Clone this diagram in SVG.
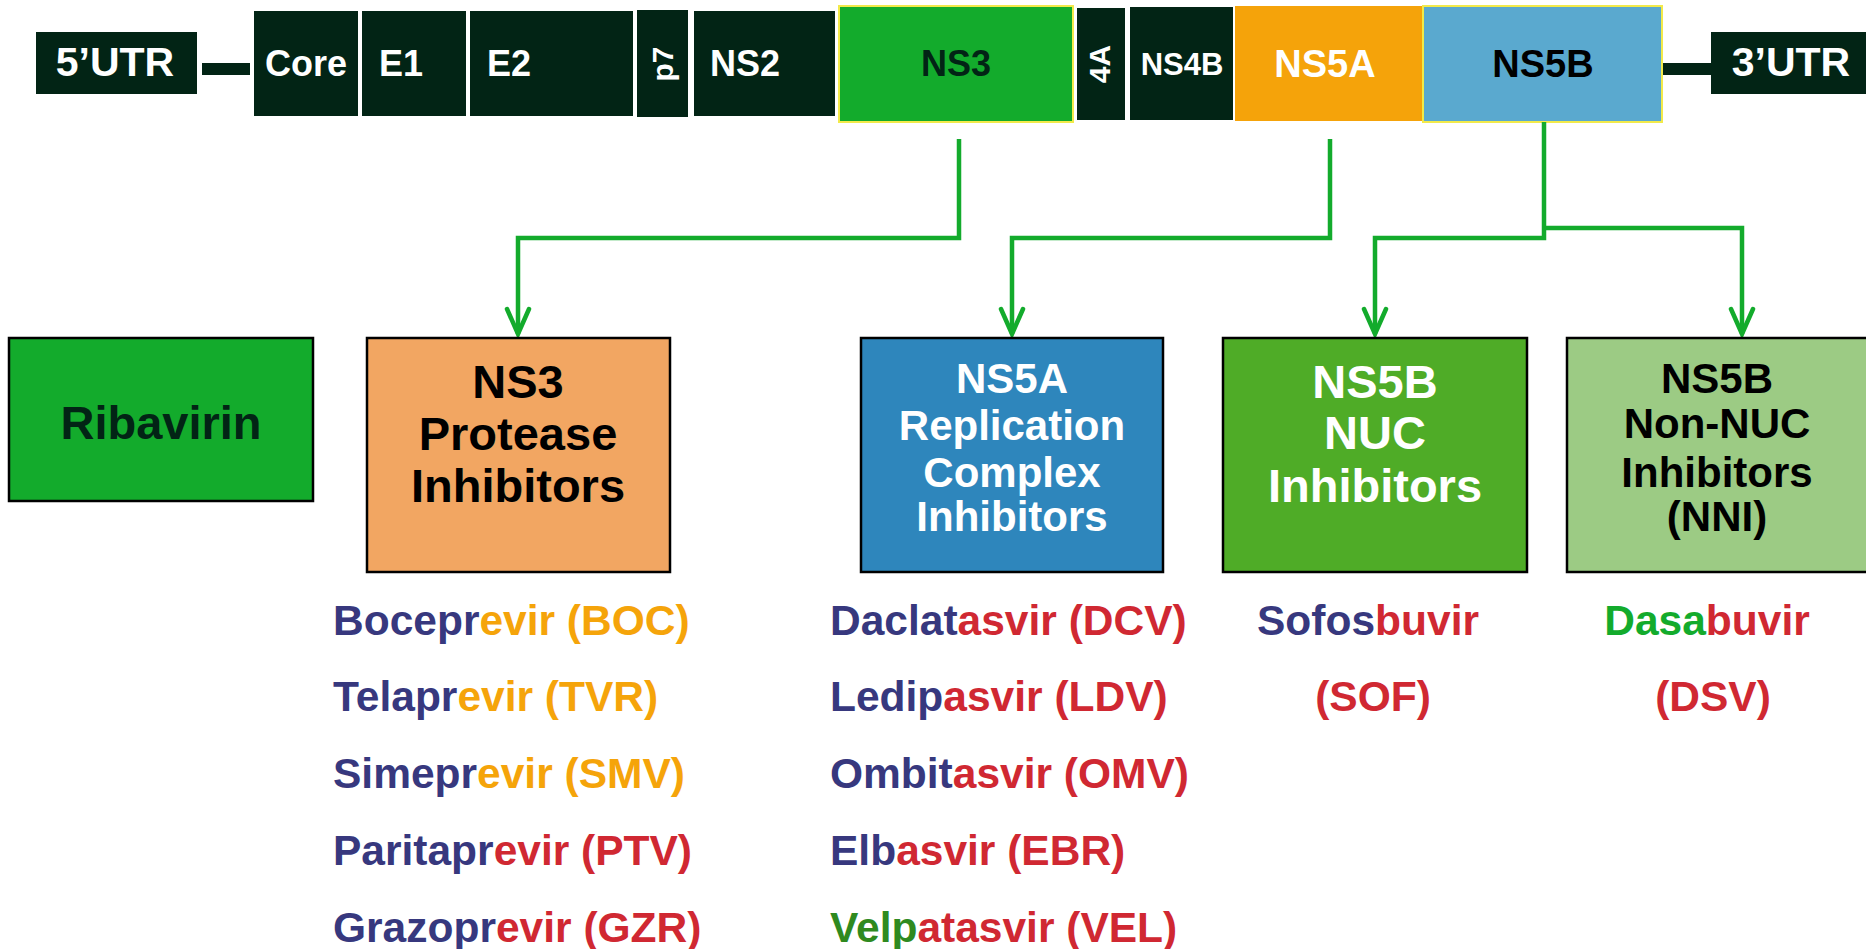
<svg xmlns="http://www.w3.org/2000/svg" width="1866" height="949" viewBox="0 0 1866 949">
<defs>
<style>
text{font-family:"Liberation Sans",Arial,sans-serif;font-weight:bold}
.dk{fill:#022415}
.gl{fill:#fff;font-size:36px}
.bx{stroke:#000;stroke-width:2.5}
.con{fill:none;stroke:#13ab2c;stroke-width:4.5;stroke-linejoin:miter}
.dr{font-size:42.5px}
.n{fill:#37387e}
.o{fill:#f5a40a}
.r{fill:#d02832}
.g{fill:#2f8a1f}
.g2{fill:#13ab2c}
</style>
<marker id="ah" viewBox="-30 -16 34 32" markerWidth="34" markerHeight="32" refX="0" refY="0" markerUnits="userSpaceOnUse" orient="auto">
<path d="M-25,-11 L0,0 L-25,11" fill="none" stroke="#13ab2c" stroke-width="4.5" stroke-linecap="round"/>
</marker>
</defs>
<rect width="1866" height="949" fill="#fff"/>

<g id="genome-lines">
<rect class="dk" x="202" y="63" width="48" height="12"/>
<rect class="dk" x="1663" y="63" width="48" height="12"/>
</g>
<g id="utr5"><rect class="dk" x="36" y="32" width="161" height="62"/><text x="115" y="76" text-anchor="middle" fill="#fff" font-size="41">5’UTR</text></g>
<g id="core"><rect class="dk" x="254" y="11" width="104" height="105"/><text class="gl" x="306" y="76" text-anchor="middle">Core</text></g>
<g id="e1"><rect class="dk" x="362" y="11" width="104" height="105"/><text class="gl" x="379" y="76">E1</text></g>
<g id="e2"><rect class="dk" x="470" y="11" width="163" height="105"/><text class="gl" x="487" y="76">E2</text></g>
<g id="p7"><rect class="dk" x="637" y="10" width="51" height="107"/><text x="0" y="0" fill="#fff" font-size="30" text-anchor="middle" transform="translate(673,64) rotate(-90)">p7</text></g>
<g id="ns2"><rect class="dk" x="694" y="11" width="141" height="105"/><text class="gl" x="710" y="76">NS2</text></g>
<g id="ns3"><rect x="839" y="6" width="234" height="116" fill="#13ab2c" stroke="#f2ea4a" stroke-width="2"/><text x="956" y="76" text-anchor="middle" fill="#022415" font-size="36">NS3</text></g>
<g id="ns4a"><rect class="dk" x="1077" y="8" width="48" height="112"/><text x="0" y="0" fill="#fff" font-size="30" text-anchor="middle" transform="translate(1110,64) rotate(-90)">4A</text></g>
<g id="ns4b"><rect class="dk" x="1130" y="7" width="103" height="113"/><text x="1182" y="75" text-anchor="middle" fill="#fff" font-size="31">NS4B</text></g>
<g id="ns5a"><rect x="1235" y="6" width="187" height="115" fill="#f5a30a"/><text x="1325" y="77" text-anchor="middle" fill="#fff" font-size="38">NS5A</text></g>
<g id="ns5b"><rect x="1423" y="6" width="239" height="116" fill="#5aa9cf" stroke="#f2ea4a" stroke-width="2"/><text x="1543" y="77" text-anchor="middle" fill="#000" font-size="38">NS5B</text></g>
<g id="utr3"><rect class="dk" x="1711" y="32" width="160" height="62"/><text x="1791" y="76" text-anchor="middle" fill="#fff" font-size="41">3’UTR</text></g>

<g id="connectors">
<polyline class="con" points="959,139 959,238 518,238 518,334" marker-end="url(#ah)"/>
<polyline class="con" points="1330,139 1330,238 1012,238 1012,334" marker-end="url(#ah)"/>
<polyline class="con" points="1544,122 1544,238 1375,238 1375,334" marker-end="url(#ah)"/>
<polyline class="con" points="1544,228 1742,228 1742,334" marker-end="url(#ah)"/>
</g>

<g id="ribavirin"><rect class="bx" x="9" y="338" width="304" height="163" fill="#13ab2c"/><text x="161" y="439" text-anchor="middle" fill="#022415" font-size="47">Ribavirin</text></g>
<g id="ns3-pi"><rect class="bx" x="367" y="338" width="303" height="234" fill="#f2a662"/>
<text x="518" y="398" text-anchor="middle" fill="#000" font-size="47">NS3</text>
<text x="518" y="450" text-anchor="middle" fill="#000" font-size="47">Protease</text>
<text x="518" y="502" text-anchor="middle" fill="#000" font-size="47">Inhibitors</text></g>
<g id="ns5a-rci"><rect class="bx" x="861" y="338" width="302" height="234" fill="#2e86bc"/>
<text x="1012" y="393" text-anchor="middle" fill="#fff" font-size="42">NS5A</text>
<text x="1012" y="440" text-anchor="middle" fill="#fff" font-size="42">Replication</text>
<text x="1012" y="487" text-anchor="middle" fill="#fff" font-size="42">Complex</text>
<text x="1012" y="531" text-anchor="middle" fill="#fff" font-size="42">Inhibitors</text></g>
<g id="ns5b-nuc"><rect class="bx" x="1223" y="338" width="304" height="234" fill="#4fac27"/>
<text x="1375" y="398" text-anchor="middle" fill="#fff" font-size="47">NS5B</text>
<text x="1375" y="449" text-anchor="middle" fill="#fff" font-size="47">NUC</text>
<text x="1375" y="502" text-anchor="middle" fill="#fff" font-size="47">Inhibitors</text></g>
<g id="ns5b-nni"><rect class="bx" x="1567" y="338" width="304" height="234" fill="#9ccb84"/>
<text x="1717" y="393" text-anchor="middle" fill="#000" font-size="42">NS5B</text>
<text x="1717" y="438" text-anchor="middle" fill="#000" font-size="42">Non-NUC</text>
<text x="1717" y="487" text-anchor="middle" fill="#000" font-size="42">Inhibitors</text>
<text x="1717" y="531" text-anchor="middle" fill="#000" font-size="42">(NNI)</text></g>

<g id="ns3-drugs">
<text x="333" y="635" class="dr"><tspan class="n">Bocepr</tspan><tspan class="o">evir (BOC)</tspan></text>
<text x="333" y="711" class="dr"><tspan class="n">Telapr</tspan><tspan class="o">evir (TVR)</tspan></text>
<text x="333" y="788" class="dr"><tspan class="n">Simepr</tspan><tspan class="o">evir (SMV)</tspan></text>
<text x="333" y="865" class="dr"><tspan class="n">Paritapr</tspan><tspan class="r">evir (PTV)</tspan></text>
<text x="333" y="942" class="dr"><tspan class="n">Grazopr</tspan><tspan class="r">evir (GZR)</tspan></text>
</g>
<g id="ns5a-drugs">
<text x="830" y="635" class="dr"><tspan class="n">Daclat</tspan><tspan class="r">asvir (DCV)</tspan></text>
<text x="830" y="711" class="dr"><tspan class="n">Ledip</tspan><tspan class="r">asvir (LDV)</tspan></text>
<text x="830" y="788" class="dr"><tspan class="n">Ombit</tspan><tspan class="r">asvir (OMV)</tspan></text>
<text x="830" y="865" class="dr"><tspan class="n">Elb</tspan><tspan class="r">asvir (EBR)</tspan></text>
<text x="830" y="942" class="dr"><tspan class="g">Velp</tspan><tspan class="r">atasvir (VEL)</tspan></text>
</g>
<g id="nuc-drugs">
<text x="1368" y="635" text-anchor="middle" class="dr"><tspan class="n">Sofos</tspan><tspan class="r">buvir</tspan></text>
<text x="1373" y="711" text-anchor="middle" class="dr r">(SOF)</text>
</g>
<g id="nni-drugs">
<text x="1707" y="635" text-anchor="middle" class="dr"><tspan class="g2">Dasa</tspan><tspan class="r">buvir</tspan></text>
<text x="1713" y="711" text-anchor="middle" class="dr r">(DSV)</text>
</g>
</svg>
